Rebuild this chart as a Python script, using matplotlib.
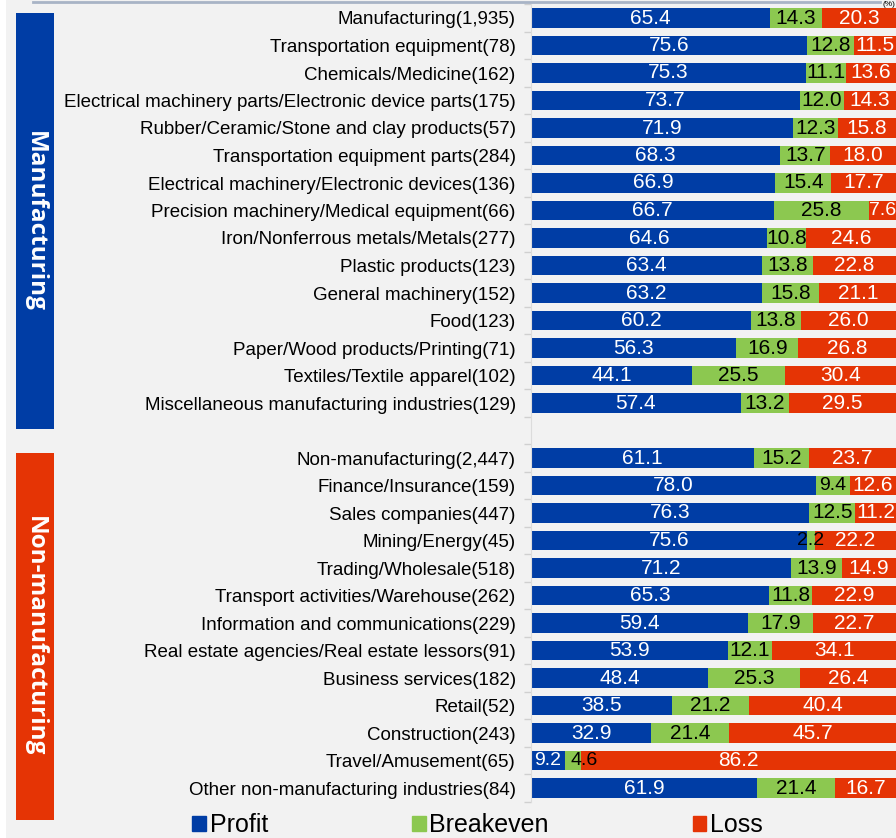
import numpy as np
import matplotlib.pyplot as plt
from matplotlib.patches import Rectangle
from matplotlib.lines import Line2D

plt.rcParams["font.family"] = ["Liberation Sans", "DejaVu Sans"]

# --- Dados (%) ---
CATEGORIAS = [
    "Manufacturing(1,935)", "Transportation equipment(78)", "Chemicals/Medicine(162)",
    "Electrical machinery parts/Electronic device parts(175)",
    "Rubber/Ceramic/Stone and clay products(57)", "Transportation equipment parts(284)",
    "Electrical machinery/Electronic devices(136)", "Precision machinery/Medical equipment(66)",
    "Iron/Nonferrous metals/Metals(277)", "Plastic products(123)", "General machinery(152)",
    "Food(123)", "Paper/Wood products/Printing(71)", "Textiles/Textile apparel(102)",
    "Miscellaneous manufacturing industries(129)",
    "",
    "Non-manufacturing(2,447)", "Finance/Insurance(159)", "Sales companies(447)",
    "Mining/Energy(45)", "Trading/Wholesale(518)", "Transport activities/Warehouse(262)",
    "Information and communications(229)", "Real estate agencies/Real estate lessors(91)",
    "Business services(182)", "Retail(52)", "Construction(243)", "Travel/Amusement(65)",
    "Other non-manufacturing industries(84)",
]
LUCRO = [65.4, 75.6, 75.3, 73.7, 71.9, 68.3, 66.9, 66.7, 64.6, 63.4, 63.2, 60.2, 56.3, 44.1, 57.4,
         None,
         61.1, 78.0, 76.3, 75.6, 71.2, 65.3, 59.4, 53.9, 48.4, 38.5, 32.9, 9.2, 61.9]
EQUILIBRIO = [14.3, 12.8, 11.1, 12.0, 12.3, 13.7, 15.4, 25.8, 10.8, 13.8, 15.8, 13.8, 16.9, 25.5, 13.2,
              None,
              15.2, 9.4, 12.5, 2.2, 13.9, 11.8, 17.9, 12.1, 25.3, 21.2, 21.4, 4.6, 21.4]
PREJUIZO = [20.3, 11.5, 13.6, 14.3, 15.8, 18.0, 17.7, 7.6, 24.6, 22.8, 21.1, 26.0, 26.8, 30.4, 29.5,
            None,
            23.7, 12.6, 11.2, 22.2, 14.9, 22.9, 22.7, 34.1, 26.4, 40.4, 45.7, 86.2, 16.7]
SERIES = ["Profit", "Breakeven", "Loss"]

AZUL, VERDE, VERMELHO = "#003da5", "#8cc850", "#e53405"
FUNDO = "#f2f2f2"

W, H = 896, 838
fig = plt.figure(figsize=(W / 100, H / 100), dpi=100, facecolor=FUNDO)
# faixa branca na borda esquerda
fig.patches.append(Rectangle((0, 0), 6 / W, 1, transform=fig.transFigure,
                             facecolor="white", edgecolor="none", zorder=0))

n = len(CATEGORIAS)
topo, base = 4.25, 801.75
ax = fig.add_axes([531 / W, 1 - base / H, 1.0 - 531 / W, (base - topo) / H])
ax.set_facecolor(FUNDO)

y = np.arange(n)
for i in range(n):
    if LUCRO[i] is None:
        continue
    vals = [LUCRO[i], EQUILIBRIO[i], PREJUIZO[i]]
    cores = [AZUL, VERDE, VERMELHO]
    txt = ["white", "black", "white"]
    esq = 0.0
    anterior = 100.0
    for v, c, t in zip(vals, cores, txt):
        ax.barh(y[i], v, left=esq, height=0.7, color=c, edgecolor="none")
        fs = 15 if v >= 10 else 14
        # dois segmentos estreitos seguidos: empurra o rotulo para a direita
        dx = 8 if (v < 5 and anterior < 10) else 0
        ax.annotate(f"{v:.1f}", (esq + v / 2, y[i]), xytext=(dx, 0),
                    textcoords="offset points", ha="center", va="center",
                    color=t, fontsize=fs)
        esq += v
        anterior = v

ax.set_xlim(0, 100)
ax.set_ylim(n - 0.5, -0.5)
ax.set_xticks([])
ax.set_yticks(y)
ax.set_yticklabels(CATEGORIAS, fontsize=13.5)
ax.tick_params(axis="y", length=0, pad=11)
ax.set_yticks(np.arange(-0.5, n, 1), minor=True)
ax.tick_params(axis="y", which="minor", length=5, color="#d0d0d0", width=1)
for s in ["top", "right", "bottom"]:
    ax.spines[s].set_visible(False)
ax.spines["left"].set_color("#dcdcdc")

# caixas laterais
def caixa(y0, y1, cor, texto):
    fig.patches.append(Rectangle((16 / W, 1 - y1 / H), 38 / W, (y1 - y0) / H,
                                 transform=fig.transFigure, facecolor=cor,
                                 edgecolor="none"))
    fig.text(35 / W, 1 - (y0 + y1) / 2 / H, texto, rotation=-90, color="white",
             fontsize=17.5, fontweight="bold", ha="center", va="center",
             family=["Open Sans", "DejaVu Sans"])

caixa(13, 429, AZUL, "Manufacturing")
caixa(453, 820, VERMELHO, "Non-manufacturing")

# linha superior e unidade
fig.add_artist(Line2D([33 / W, 880 / W], [1 - 2.5 / H, 1 - 2.5 / H],
                      transform=fig.transFigure, color="#a8b4c6", lw=2))
fig.text(895 / W, 1 - 0.5 / H, "(%)", fontsize=6, ha="right", va="top")

# legenda
handles = [Rectangle((0, 0), 1, 1, color=c) for c in [AZUL, VERDE, VERMELHO]]
fig.legend(handles, SERIES, loc="center", bbox_to_anchor=(0.533, 1 - 825 / H),
           ncol=3, frameon=False, fontsize=18, handlelength=0.55, handleheight=0.55,
           handletextpad=0.15, columnspacing=5.75, borderaxespad=0, borderpad=0.1)

fig.savefig("out.png", dpi=100, facecolor=FUNDO)
